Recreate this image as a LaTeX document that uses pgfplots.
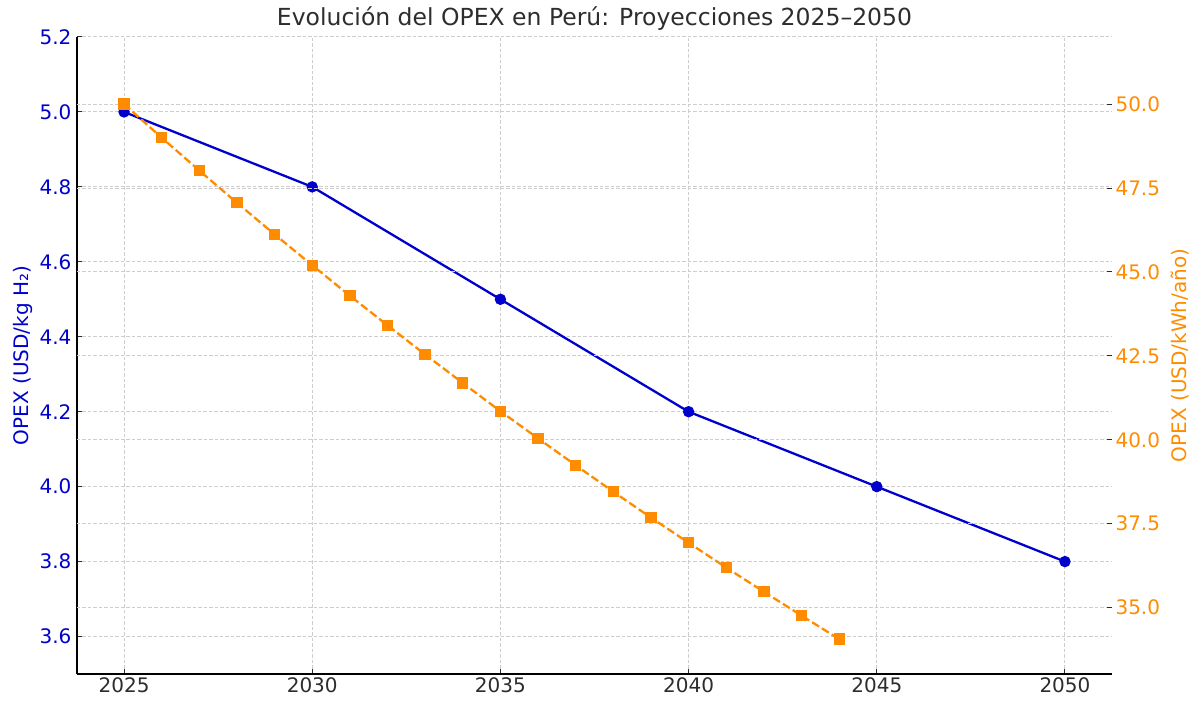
\documentclass[border=0pt]{standalone}
\usepackage{fontspec}
\setmainfont{DejaVu Sans}
\usepackage{pgfplots}
\pgfplotsset{compat=1.18}
\definecolor{myblue}{RGB}{0,0,205}
\definecolor{myorange}{RGB}{255,140,0}
\definecolor{gridgray}{RGB}{205,205,205}
\definecolor{txtgray}{RGB}{45,45,45}
\begin{document}
\begin{tikzpicture}
\pgfplotsset{
  common/.style={
    scale only axis, width=1035pt, height=637pt,
    xmin=2023.75, xmax=2051.25,
    tick align=inside, major tick length=5pt,
    tick style={txtgray, line width=1pt},
    grid style={dash pattern=on 3.5pt off 2pt, gridgray, line width=1pt},
    /pgf/number format/assume math mode=true,
    tick label style={font=\fontsize{20}{24}\selectfont},
    label style={font=\fontsize{20}{24}\selectfont},
    axis line style={black, line width=1.4pt},
  }
}
\begin{axis}[common,
  ymin=3.5, ymax=5.2,
  axis y line*=left, axis x line*=bottom,
  xtick={2025,2030,2035,2040,2045,2050},
  ytick={3.6,3.8,4.0,4.2,4.4,4.6,4.8,5.0,5.2},
  xticklabel style={txtgray, /pgf/number format/1000 sep={}},
  yticklabel style={myblue, xshift=-2pt, /pgf/number format/.cd, fixed, fixed zerofill, precision=1},
  xmajorgrids, ymajorgrids,
  ylabel={OPEX (USD/kg H₂)},
  ylabel style={myblue},
  title={Evolución del OPEX en Perú: Proyecciones 2025–2050},
  title style={font=\fontsize{23.5}{28}\selectfont, txtgray, at={(0.5,1)}, anchor=base, yshift=5pt},
]
\addplot[myblue, line width=2.3pt, mark=*, mark size=4.5pt, mark options={solid}] coordinates {
(2025,5.0) (2030,4.8) (2035,4.5) (2040,4.2) (2045,4.0) (2050,3.8)};
\end{axis}
\begin{axis}[common,
  ymin=33.02, ymax=52.0,
  axis y line*=right, axis x line=none,
  y axis line style={draw=none},
  ytick={35,37.5,40,42.5,45,47.5,50},
  yticklabel style={myorange, /pgf/number format/.cd, fixed, fixed zerofill, precision=1},
  ymajorgrids,
  ylabel={OPEX (USD/kWh/año)},
  ylabel style={myorange, yshift=-4pt},
]
\addplot[myorange, line width=2.3pt, dash pattern=on 8pt off 3.5pt, mark=square*, mark size=4.5pt, mark options={solid}] coordinates {
(2025,50.00) (2026,49.00) (2027,48.02) (2028,47.06) (2029,46.12) (2030,45.20)
(2031,44.29) (2032,43.41) (2033,42.54) (2034,41.69) (2035,40.85) (2036,40.04)
(2037,39.24) (2038,38.45) (2039,37.68) (2040,36.93) (2041,36.19) (2042,35.47)
(2043,34.76) (2044,34.06)};
\end{axis}
\pgfresetboundingbox
\useasboundingbox (-77pt,-28pt) rectangle (1118pt,674pt);
\end{tikzpicture}
\end{document}
